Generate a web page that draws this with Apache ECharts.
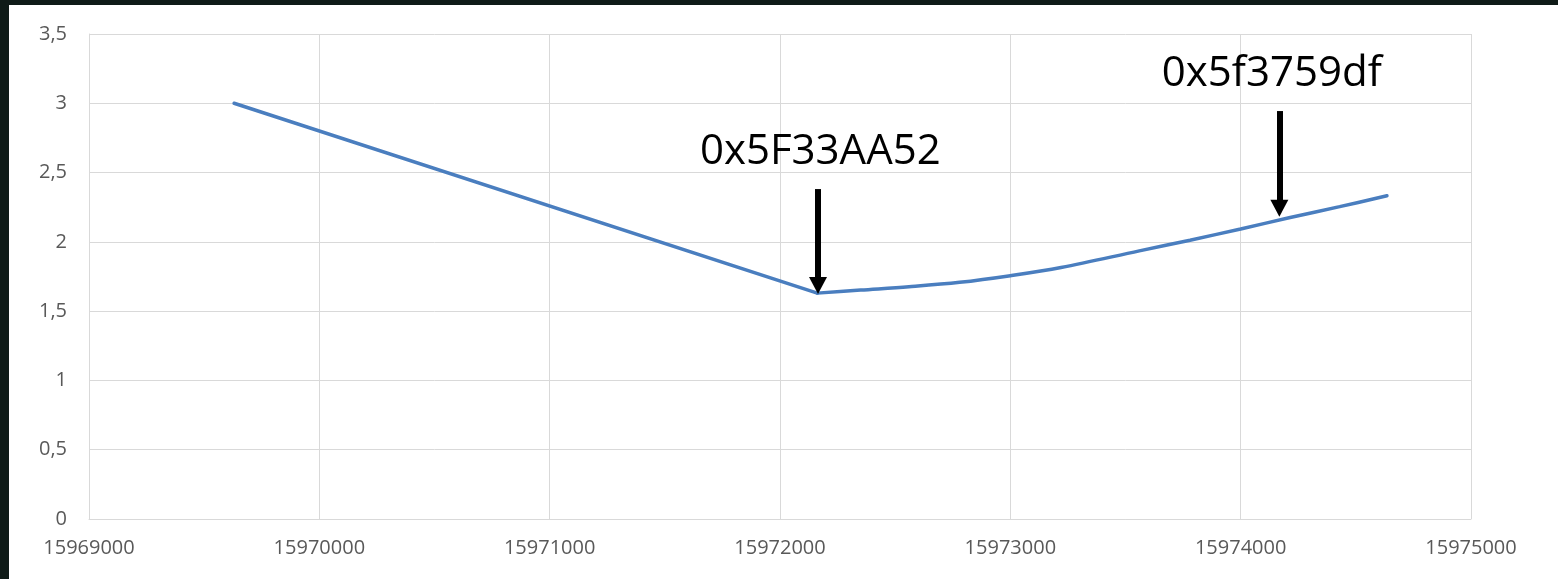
<!DOCTYPE html>
<html>
<head>
<meta charset="utf-8">
<script src="https://cdn.jsdelivr.net/npm/echarts@6/dist/echarts.min.js"></script>
<style>
  html, body { margin: 0; padding: 0; width: 1558px; height: 579px; overflow: hidden; background: #0f1b18; }
  #panel { position: absolute; left: 9px; top: 5px; width: 1549px; height: 574px; background: #ffffff; }
  #chart { width: 1549px; height: 574px; }
</style>
</head>
<body>
<div id="panel"><div id="chart"></div></div>
<script>
// Series data: descending straight part, then rising curve
const xDescending = [15969630, 15972162];
const yDescending = [3.0, 1.63];
const xRising = [15972162, 15972350, 15972560, 15972780, 15973000, 15973220, 15973560, 15973780, 15974000, 15974210, 15974430, 15974635];
const yRising = [1.63, 1.652, 1.676, 1.708, 1.756, 1.815, 1.935, 2.012, 2.093, 2.174, 2.254, 2.333];

// Axis ticks
const xTicks = [15969000, 15970000, 15971000, 15972000, 15973000, 15974000, 15975000];
const yTicks = [0, 0.5, 1, 1.5, 2, 2.5, 3, 3.5];

// Annotations (labels and arrows in data coordinates)
const annotationLabels = ['0x5F33AA52', '0x5f3759df'];
const annotationLabelX = [15972175, 15974135];
const annotationLabelY = [2.648, 3.211];
const arrowX = [15972165, 15974168];
const arrowTopY = [2.381, 2.944];
const arrowEndY = [1.685, 2.242];

const chart = echarts.init(document.getElementById('chart'), null, { renderer: 'canvas' });

const descData = xDescending.map((x, i) => [x, yDescending[i]]);
const riseData = xRising.map((x, i) => [x, yRising[i]]);
const labelColor = '#595959';
const gridColor = '#d9d9d9';
const lineColor = '#4a7ebf';
const fontFamily = '"Open Sans", "Liberation Sans", sans-serif';

chart.setOption({
  animation: false,
  backgroundColor: '#ffffff',
  grid: { left: 80, top: 29, right: 87, bottom: 60, containLabel: false },
  xAxis: {
    type: 'value',
    min: xTicks[0],
    max: xTicks[xTicks.length - 1],
    interval: xTicks[1] - xTicks[0],
    axisLine: { show: true, lineStyle: { color: gridColor, width: 1 } },
    axisTick: { show: false },
    splitLine: { show: true, lineStyle: { color: gridColor, width: 1 } },
    axisLabel: { color: labelColor, fontSize: 20, fontFamily: fontFamily, margin: 19, formatter: v => String(v) }
  },
  yAxis: {
    type: 'value',
    min: yTicks[0],
    max: yTicks[yTicks.length - 1],
    interval: yTicks[1] - yTicks[0],
    axisLine: { show: true, lineStyle: { color: gridColor, width: 1 } },
    axisTick: { show: false },
    splitLine: { show: true, lineStyle: { color: gridColor, width: 1 } },
    axisLabel: { color: labelColor, fontSize: 20, fontFamily: fontFamily, margin: 22, formatter: v => String(v).replace('.', ',') }
  },
  series: [{
    type: 'line',
    data: descData,
    showSymbol: false,
    symbol: 'none',
    lineStyle: { color: lineColor, width: 3.5, cap: 'round' },
    silent: true,
    z: 2
  }, {
    type: 'line',
    data: riseData,
    showSymbol: false,
    symbol: 'none',
    smooth: 0.35,
    lineStyle: { color: lineColor, width: 3.5, cap: 'round' },
    silent: true,
    z: 2,
    markLine: {
      silent: true,
      symbol: ['none', 'triangle'],
      symbolSize: [18, 17],
      label: { show: false },
      lineStyle: { color: '#000000', width: 6, type: 'solid' },
      itemStyle: { color: '#000000' },
      emphasis: { disabled: true },
      data: arrowX.map((x, i) => [
        { coord: [x, arrowTopY[i]] },
        { coord: [x, arrowEndY[i]] }
      ])
    },
    markPoint: {
      silent: true,
      symbol: 'rect',
      symbolSize: 1,
      itemStyle: { color: 'rgba(0,0,0,0)' },
      label: {
        show: true,
        position: 'inside',
        color: '#000000',
        fontSize: 42,
        fontFamily: fontFamily,
        formatter: p => p.name
      },
      data: annotationLabels.map((t, i) => ({ name: t, coord: [annotationLabelX[i], annotationLabelY[i]] }))
    }
  }]
});
</script>
</body>
</html>
